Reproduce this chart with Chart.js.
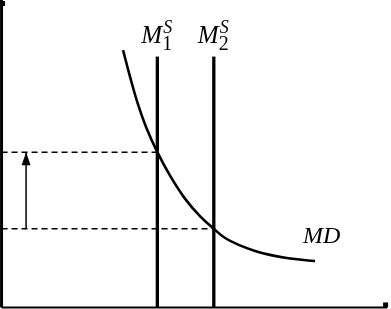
<!DOCTYPE html>
<html>
<head>
<meta charset="utf-8">
<script src="https://cdn.jsdelivr.net/npm/chart.js@4/dist/chart.umd.min.js"></script>
<style>
  html, body { margin: 0; padding: 0; background: #fff; }
  #wrap { width: 391px; height: 309px; }
</style>
</head>
<body>
<div id="wrap"><canvas id="chart" width="391" height="309"></canvas></div>
<script>
// money demand curve MD (quantity of money, interest rate)
const mdQuantity = [31.2, 33.0, 35.0, 37.1, 40.0, 43.3, 47.1, 51.0, 54.5, 57.4, 61.2, 65.1, 68.9, 74.1, 80.5]
const mdRate     = [83.7, 75.0, 66.2, 58.7, 50.5, 42.8, 35.4, 29.6, 25.6, 22.6, 20.2, 18.4, 17.1, 15.9, 15.1]

// money supply lines M1s, M2s
const supplyQuantity = [40, 54.5]
const supplyTop = 81.6

// equilibrium interest rates
const eqRates = [50.5, 25.6]
const arrowQuantity = 6.3

// axis extents
const axisMaxX = 99
const axisMaxY = 100

const mdLabelPos = {x: 77.4, y: 21.0}

function pts(xs, ys) {
    return xs.map((x, i) => ({x: x, y: ys[i]}))
}

const black = '#000'
const base = {showLine: true, pointRadius: 0, borderColor: black, clip: false, fill: false}

const datasets = [
    // axes
    {...base, data: [{x: 0, y: 0}, {x: 0, y: axisMaxY}], borderWidth: 3},
    {...base, data: [{x: 0, y: 0}, {x: axisMaxX, y: 0}], borderWidth: 2},
    // dashed guides
    {...base, data: [{x: 0, y: eqRates[0]}, {x: supplyQuantity[0], y: eqRates[0]}], borderWidth: 1.5, borderDash: [6, 4]},
    {...base, data: [{x: 0, y: eqRates[1]}, {x: supplyQuantity[1], y: eqRates[1]}], borderWidth: 1.5, borderDash: [6, 4]},
    // supply lines
    {...base, data: [{x: supplyQuantity[0], y: 0}, {x: supplyQuantity[0], y: supplyTop}], borderWidth: 3.3},
    {...base, data: [{x: supplyQuantity[1], y: 0}, {x: supplyQuantity[1], y: supplyTop}], borderWidth: 3.3},
    // demand curve
    {...base, data: pts(mdQuantity, mdRate), borderWidth: 2.6, tension: 0.4},
    // arrow shaft
    {...base, data: [{x: arrowQuantity, y: eqRates[1]}, {x: arrowQuantity, y: eqRates[0]}], borderWidth: 1.5}
]

const extras = {
    id: 'extras',
    afterDatasetsDraw(chart) {
        const ctx = chart.ctx
        const sx = chart.scales.x, sy = chart.scales.y
        ctx.save()
        ctx.fillStyle = black

        // arrowhead on the rate arrow
        const ax = sx.getPixelForValue(arrowQuantity)
        const ay = sy.getPixelForValue(eqRates[0])
        ctx.beginPath()
        ctx.moveTo(ax, ay)
        ctx.lineTo(ax - 4.5, ay + 13)
        ctx.lineTo(ax + 4.5, ay + 13)
        ctx.closePath()
        ctx.fill()

        // little axis arrow tips
        const ox = sx.getPixelForValue(0)
        const ty = sy.getPixelForValue(axisMaxY)
        ctx.fillRect(ox - 1.5, ty + 1, 5, 5)
        const rx = sx.getPixelForValue(axisMaxX)
        const oy = sy.getPixelForValue(0)
        ctx.fillRect(rx - 4, oy - 5, 5, 5)

        // labels
        ctx.textBaseline = 'alphabetic'
        ctx.textAlign = 'left'
        supplyQuantity.forEach((q, i) => {
            const px = sx.getPixelForValue(q) - 16
            const py = sy.getPixelForValue(supplyTop) - 14
            ctx.font = 'italic 25px "Liberation Serif"'
            ctx.fillText('M', px, py)
            const w = ctx.measureText('M').width
            ctx.font = 'italic 18px "Liberation Serif"'
            ctx.fillText('S', px + w + 1, py - 10)
            ctx.font = '20px "Liberation Serif"'
            ctx.fillText(String(i + 1), px + w, py + 7)
        })
        ctx.font = 'italic 24px "Liberation Serif"'
        ctx.fillText('MD', sx.getPixelForValue(mdLabelPos.x), sy.getPixelForValue(mdLabelPos.y))
        ctx.restore()
    }
}

new Chart(document.getElementById('chart'), {
    type: 'scatter',
    data: {datasets: datasets},
    options: {
        responsive: false,
        animation: false,
        layout: {padding: 0},
        plugins: {legend: {display: false}, tooltip: {enabled: false}},
        scales: {
            x: {type: 'linear', display: false, min: -0.4, max: 100},
            y: {type: 'linear', display: false, min: -0.5, max: 100}
        }
    },
    plugins: [extras]
})
</script>
</body>
</html>
